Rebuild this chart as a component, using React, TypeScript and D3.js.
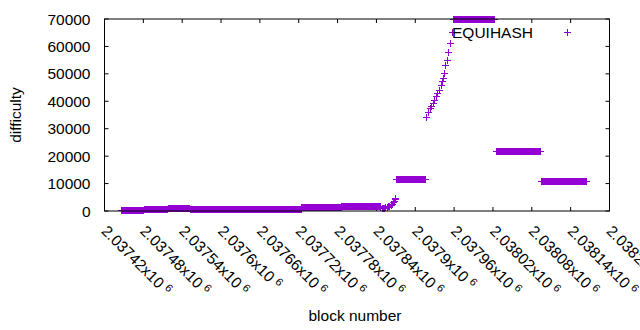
import * as d3 from "d3";

// runs of constant difficulty (first block, last block, difficulty)
const runStart = [2037445, 2037481, 2037518, 2037552, 2037724, 2037786, 2037870, 2037958, 2038024, 2038094];
const runEnd = [2037480, 2037517, 2037551, 2037723, 2037785, 2037845, 2037915, 2038022, 2038092, 2038164];
const runDifficulty = [500, 850, 1200, 750, 1450, 1900, 11650, 70000, 21800, 10800];

// single blocks where difficulty moves
const pointBlocks = [
  2037446, 2037478,
  2037846, 2037848, 2037850, 2037852, 2037854, 2037856, 2037858, 2037860, 2037862, 2037864, 2037866, 2037867, 2037868, 2037869,
  2037916, 2037919, 2037922, 2037924, 2037927, 2037929, 2037932, 2037934, 2037937, 2037940, 2037941, 2037943, 2037944, 2037946, 2037949, 2037950, 2037954, 2037957,
];
const pointDifficulty = [
  250, 250,
  1300, 1100, 1000, 1100, 1300, 1500, 1800, 2000, 2300, 2700, 3200, 3700, 4200, 4700,
  34400, 36200, 37400, 38300, 39500, 40500, 41900, 43100, 44100, 45900, 47400, 48400, 50200, 53200, 55100, 58100, 61400, 65400,
];

const xTicks = [2037420, 2037480, 2037540, 2037600, 2037660, 2037720, 2037780, 2037840, 2037900, 2037960, 2038020, 2038080, 2038140, 2038200];
const yTicks = [0, 10000, 20000, 30000, 40000, 50000, 60000, 70000];

const seriesName = "EQUIHASH";
const color = "#9400d3";
const font = "'Liberation Sans', Arial, sans-serif";

const App = () => {
  const width = 640;
  const height = 330;
  const margin = { top: 19, right: 30.5, bottom: 119, left: 104.5 };

  const x = d3.scaleLinear()
    .domain([xTicks[0], xTicks[xTicks.length - 1]])
    .range([margin.left, width - margin.right]);
  const y = d3.scaleLinear()
    .domain([0, 70000])
    .range([height - margin.bottom, margin.top]);

  // expand runs to one point per block
  const data: { b: number; v: number }[] = [];
  runStart.forEach((s, i) => {
    for (let b = s; b <= runEnd[i]; b++) data.push({ b, v: runDifficulty[i] });
  });
  pointBlocks.forEach((b, i) => data.push({ b, v: pointDifficulty[i] }));

  const x0 = x.range()[0], x1 = x.range()[1];
  const y0 = y.range()[0], y1 = y.range()[1];
  const tick = 4;
  const s = 3.5; // half size of the + mark

  const plus = (px: number, py: number) => {
    const cx = Math.round(px) + 0.5, cy = Math.round(py) + 0.5;
    return `M${cx - s},${cy}H${cx + s}M${cx},${cy - s}V${cy + s}`;
  };

  return (
    <svg width={width} height={height} style={{ position: "absolute", left: 0, top: 0, background: "#fff" }}
      fontFamily={font} fontSize={15.5}>
      <rect width={width} height={height} fill="#fff" />

      {/* ticks */}
      <g stroke="#000" strokeWidth={1}>
        {yTicks.map((t) => (
          <g key={"y" + t}>
            <line x1={x0} x2={x0 + tick} y1={y(t)} y2={y(t)} />
            <line x1={x1} x2={x1 - tick} y1={y(t)} y2={y(t)} />
          </g>
        ))}
        {xTicks.map((t) => (
          <g key={"x" + t}>
            <line x1={x(t)} x2={x(t)} y1={y0} y2={y0 - tick} />
            <line x1={x(t)} x2={x(t)} y1={y1} y2={y1 + tick} />
          </g>
        ))}
      </g>

      {/* y tick labels */}
      {yTicks.map((t) => (
        <text key={"yl" + t} x={x0 - 14} y={y(t)} dy="0.36em" textAnchor="end" fill="#000">{t}</text>
      ))}

      {/* x tick labels */}
      {xTicks.map((t) => (
        <text key={"xl" + t} transform={`translate(${x(t) - 4},232) rotate(45)`} fill="#000">
          <tspan>{String(+(t / 1e6).toPrecision(6)) + "x10"}</tspan>
          <tspan dx={4} dy={-5} fontSize={11}>6</tspan>
        </text>
      ))}

      {/* points */}
      <path d={data.map((d) => plus(x(d.b), y(d.v))).join("")} stroke={color} strokeWidth={1}
        fill="none" shapeRendering="crispEdges" />

      {/* frame */}
      <rect x={x0} y={y1} width={x1 - x0} height={y0 - y1} fill="none" stroke="#000" strokeWidth={1} />

      {/* legend */}
      <text x={533} y={37.5} textAnchor="end" fill="#000">{seriesName}</text>
      <path d={plus(567, 32)} stroke={color} strokeWidth={1} fill="none" shapeRendering="crispEdges" />

      {/* axis titles */}
      <text transform={`translate(21,${(y0 + y1) / 2}) rotate(-90)`} textAnchor="middle" fill="#000">difficulty</text>
      <text x={(x0 + x1) / 2 - 2} y={321} textAnchor="middle" fill="#000">block number</text>
    </svg>
  );
};

export default App;
